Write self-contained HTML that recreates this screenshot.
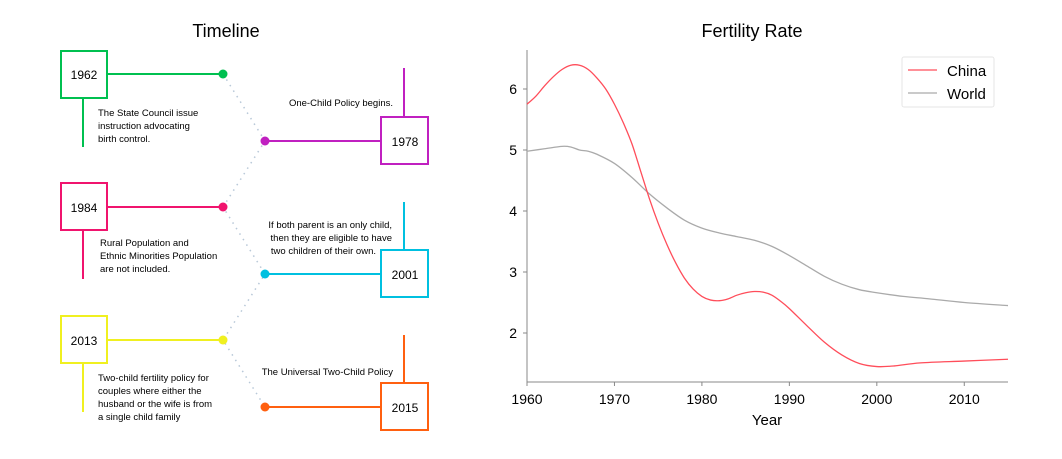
<!DOCTYPE html>
<html><head><meta charset="utf-8"><style>
body{margin:0;background:#fff;font-family:"Liberation Sans","DejaVu Sans",sans-serif}
svg{display:block}
</style></head><body>
<svg id="s" width="1062" height="459" viewBox="0 0 1062 459">
<g font-size="10" fill="#000">
<text x="226" y="37" font-size="18" text-anchor="middle">Timeline</text>
<g stroke="#b8c8d8" stroke-width="1.5" stroke-dasharray="1.5,5" fill="none">
<polyline points="223,74 265,141 223,207 265,274 223,340 265,407"/>
</g>
<g stroke="#00c050" stroke-width="2" fill="none">
<rect x="61" y="51" width="46" height="47" fill="#fff"/><line x1="107" y1="74" x2="223" y2="74"/><line x1="83" y1="98" x2="83" y2="147"/>
<circle cx="223" cy="74" r="4.5" fill="#00c050" stroke="none"/>
</g>
<text x="84" y="79" font-size="12" text-anchor="middle">1962</text>
<text font-size="9.5"><tspan x="98" y="116">The State Council issue</tspan><tspan x="98" y="129">instruction advocating</tspan><tspan x="98" y="142">birth control.</tspan></text>

<g stroke="#c020c0" stroke-width="2" fill="none">
<rect x="381" y="117" width="47" height="47" fill="#fff"/><line x1="265" y1="141" x2="381" y2="141"/><line x1="404" y1="68" x2="404" y2="117"/>
<circle cx="265" cy="141" r="4.5" fill="#c020c0" stroke="none"/>
</g>
<text x="405" y="146" font-size="12" text-anchor="middle">1978</text>
<text x="393" y="106" font-size="9.5" text-anchor="end">One-Child Policy begins.</text>

<g stroke="#f0146e" stroke-width="2" fill="none">
<rect x="61" y="183" width="46" height="47" fill="#fff"/><line x1="107" y1="207" x2="223" y2="207"/><line x1="83" y1="230" x2="83" y2="279"/>
<circle cx="223" cy="207" r="4.5" fill="#f0146e" stroke="none"/>
</g>
<text x="84" y="212" font-size="12" text-anchor="middle">1984</text>
<text font-size="9.5"><tspan x="100" y="246">Rural Population and</tspan><tspan x="100" y="259">Ethnic Minorities Population</tspan><tspan x="100" y="272">are not included.</tspan></text>

<g stroke="#00c0e0" stroke-width="2" fill="none">
<rect x="381" y="250" width="47" height="47" fill="#fff"/><line x1="265" y1="274" x2="381" y2="274"/><line x1="404" y1="202" x2="404" y2="250"/>
<circle cx="265" cy="274" r="4.5" fill="#00c0e0" stroke="none"/>
</g>
<text x="405" y="279" font-size="12" text-anchor="middle">2001</text>
<text font-size="9.5" text-anchor="end"><tspan x="392" y="228">If both parent is an only child,</tspan><tspan x="392" y="241">then they are eligible to have</tspan><tspan x="376" y="254">two children of their own.</tspan></text>

<g stroke="#f0f020" stroke-width="2" fill="none">
<rect x="61" y="316" width="46" height="47" fill="#fff"/><line x1="107" y1="340" x2="223" y2="340"/><line x1="83" y1="363" x2="83" y2="412"/>
<circle cx="223" cy="340" r="4.5" fill="#f0f020" stroke="none"/>
</g>
<text x="84" y="345" font-size="12" text-anchor="middle">2013</text>
<text font-size="9.5"><tspan x="98" y="381">Two-child fertility policy for</tspan><tspan x="98" y="394">couples where either the</tspan><tspan x="98" y="407">husband or the wife is from</tspan><tspan x="98" y="420">a single child family</tspan></text>

<g stroke="#ff6010" stroke-width="2" fill="none">
<rect x="381" y="383" width="47" height="47" fill="#fff"/><line x1="265" y1="407" x2="381" y2="407"/><line x1="404" y1="335" x2="404" y2="383"/>
<circle cx="265" cy="407" r="4.5" fill="#ff6010" stroke="none"/>
</g>
<text x="405" y="412" font-size="12" text-anchor="middle">2015</text>
<text x="393" y="375" font-size="9.5" text-anchor="end">The Universal Two-Child Policy</text>
</g>

<g id="chart">
<text x="752" y="37" font-size="18" text-anchor="middle">Fertility Rate</text>
<line x1="527" y1="50" x2="527" y2="382" stroke="#888"/>
<line x1="527" y1="382" x2="1008" y2="382" stroke="#888"/>
<text x="767" y="425" font-size="15" text-anchor="middle">Year</text>
<g>
<rect x="902" y="57" width="92" height="50" fill="#fff" stroke="#e6e6e6" rx="2"/>
<line x1="908" y1="70" x2="937" y2="70" stroke="#ff4d5a" stroke-width="1.3"/>
<text x="947" y="76" font-size="15">China</text>
<line x1="908" y1="93" x2="937" y2="93" stroke="#aaa" stroke-width="1.3"/>
<text x="947" y="99" font-size="15">World</text>
</g>
</g>
</svg>
<script>
const years=[1960,1961,1962,1963,1964,1965,1966,1967,1968,1969,1970,1971,1972,1973,1974,1975,1976,1977,1978,1979,1980,1981,1982,1983,1984,1985,1986,1987,1988,1989,1990,1992,1994,1996,1998,2000,2002,2005,2010,2015];
const china=[5.75,5.88,6.05,6.2,6.32,6.39,6.39,6.32,6.18,6.0,5.75,5.45,5.1,4.65,4.2,3.8,3.45,3.15,2.9,2.72,2.6,2.54,2.53,2.56,2.62,2.66,2.68,2.67,2.62,2.52,2.4,2.12,1.85,1.64,1.5,1.45,1.46,1.51,1.54,1.57];
const worldYears=[1960,1962,1964,1965,1966,1967,1968,1970,1972,1974,1976,1978,1980,1982,1984,1986,1988,1990,1992,1994,1996,1998,2000,2003,2006,2010,2015];
const world=[4.98,5.02,5.06,5.05,5.0,4.98,4.93,4.78,4.55,4.28,4.05,3.85,3.72,3.64,3.58,3.52,3.42,3.27,3.1,2.93,2.8,2.71,2.66,2.6,2.56,2.5,2.45];
const xTicks=[1960,1970,1980,1990,2000,2010];
const yTicks=[2,3,4,5,6];
const NS="http://www.w3.org/2000/svg";
const g=document.getElementById('chart');
const X=v=>527+(v-1960)*(481/55);
const Y=v=>89+(6-v)*61;
function mk(t,a){const e=document.createElementNS(NS,t);for(const k in a)e.setAttribute(k,a[k]);g.appendChild(e);return e;}
xTicks.forEach(t=>{
  const l=mk('line',{x1:X(t),x2:X(t),y1:382,y2:386,stroke:'#888'});
  
  
  const tx=mk('text',{x:X(t),y:404,'font-size':14,'text-anchor':'middle'});tx.textContent=t;
  
  
});
yTicks.forEach(t=>{
  const l=mk('line',{x1:523,x2:527,y1:Y(t),y2:Y(t),stroke:'#888'});
  
  
  const tx=mk('text',{x:517,y:Y(t)+5,'font-size':14,'text-anchor':'end'});tx.textContent=t;
  
  
});
function path(xs,ys){
  const p=xs.map((x,i)=>[X(x),Y(ys[i])]);
  let d='M'+p[0][0]+','+p[0][1];
  for(let i=0;i<p.length-1;i++){
    const p0=p[i-1]||p[i],p1=p[i],p2=p[i+1],p3=p[i+2]||p2;
    d+=' C'+(p1[0]+(p2[0]-p0[0])/6)+','+(p1[1]+(p2[1]-p0[1])/6)+' '+(p2[0]-(p3[0]-p1[0])/6)+','+(p2[1]-(p3[1]-p1[1])/6)+' '+p2[0]+','+p2[1];
  }
  return d;
}
const w=mk('path',{d:path(worldYears,world),fill:'none',stroke:'#aaa','stroke-width':1.3});


const c=mk('path',{d:path(years,china),fill:'none',stroke:'#ff4d5a','stroke-width':1.3});


</script>
</body></html>
